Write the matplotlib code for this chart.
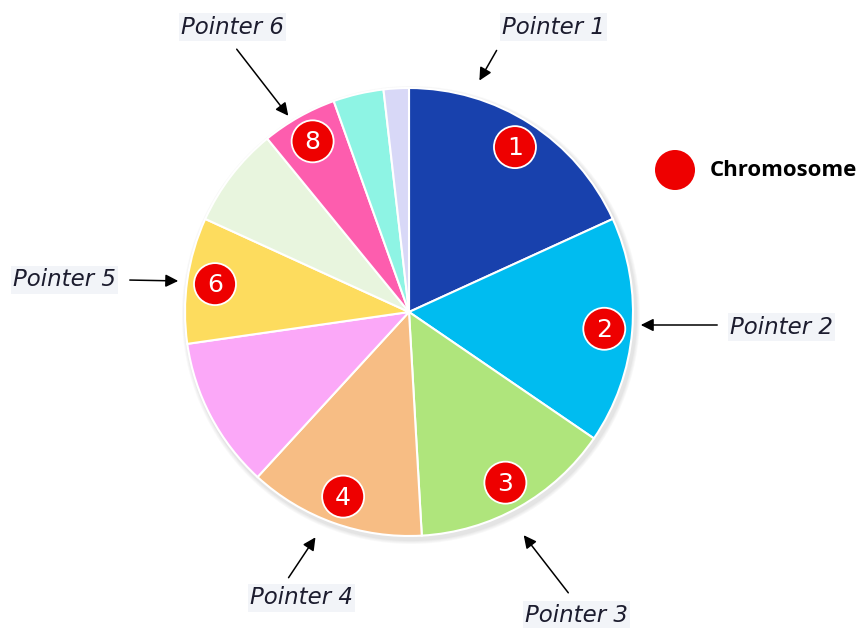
import numpy as np
import matplotlib.pyplot as plt
from matplotlib.patches import Circle

# slice sizes (clockwise from 12 o'clock)
sizes = [10, 9, 8, 7, 6, 5, 4, 3, 2, 1]
colors = ['#1841ad', '#00bcf0', '#afe57c', '#f7bd84', '#fba8f8',
          '#fddc5e', '#e8f5de', '#fd5dae', '#8ef4e4', '#d8d8f7']

# chromosomes: label number and the slice (index) they sit in
chrom_labels = ['1', '2', '3', '4', '6', '8']
chrom_slices = [0, 1, 2, 3, 5, 7]

# pointer texts: text position, arrow tail, arrow head (pixels)
pointer_labels = ['Pointer 1', 'Pointer 2', 'Pointer 3', 'Pointer 4', 'Pointer 5', 'Pointer 6']
pointer_text_xy = [(553, 27), (781, 327), (576, 615), (301, 598), (64, 280), (232, 27)]
pointer_tail = [(498, 48), (720, 325), (570, 595), (287, 580), (127, 280), (235, 47)]
pointer_head = [(478, 83), (638, 325), (522, 533), (317, 535), (181, 281), (290, 118)]

cx, cy, R = 409, 312, 224

fig = plt.figure(figsize=(8.58, 6.28), dpi=100)
ax = fig.add_axes([0, 0, 1, 1])

# soft shadow
for i, a in enumerate([0.05, 0.05, 0.06, 0.07]):
    ax.add_patch(Circle((cx + 2, cy + 3), R + 5 - i, color='#888888', alpha=a, lw=0, zorder=1))

# pie (y axis inverted, so counterclock=True draws clockwise on screen; start at top = -90)
wedges, _ = ax.pie(sizes, colors=colors, startangle=-90, counterclock=True,
                   center=(cx, cy), radius=R, frame=True,
                   wedgeprops=dict(edgecolor='white', linewidth=1.5, zorder=2))
ax.set_xlim(0, 858)
ax.set_ylim(628, 0)
ax.set_aspect('equal')
ax.axis('off')

# chromosome markers at slice mid angles
for lab, s in zip(chrom_labels, chrom_slices):
    w = wedges[s]
    mid = np.deg2rad((w.theta1 + w.theta2) / 2)
    x = cx + 0.875 * R * np.cos(mid)
    y = cy + 0.875 * R * np.sin(mid)
    ax.add_patch(Circle((x, y), 21, facecolor='#ee0000', edgecolor='white', lw=1.3, zorder=5))
    ax.text(x, y + 1, lab, color='white', fontsize=18, ha='center', va='center', zorder=6)

# pointers
for lab, txy, t, h in zip(pointer_labels, pointer_text_xy, pointer_tail, pointer_head):
    ax.annotate('', xy=h, xytext=t,
                arrowprops=dict(arrowstyle='-|>', color='black', lw=1.1, mutation_scale=19), zorder=7)
    ax.text(txy[0], txy[1], lab, fontsize=16.5, style='italic', color='#1c1c2e',
            ha='center', va='center', zorder=7,
            bbox=dict(facecolor='#f2f4f8', edgecolor='none', pad=1.5))

# legend
ax.add_patch(Circle((675, 170), 20, facecolor='#ee0000', edgecolor='none', zorder=5))
ax.text(710, 170, 'Chromosome', fontsize=16, fontweight='bold', family='Open Sans',
        color='black', ha='left', va='center')

fig.savefig('out.png', dpi=100)
